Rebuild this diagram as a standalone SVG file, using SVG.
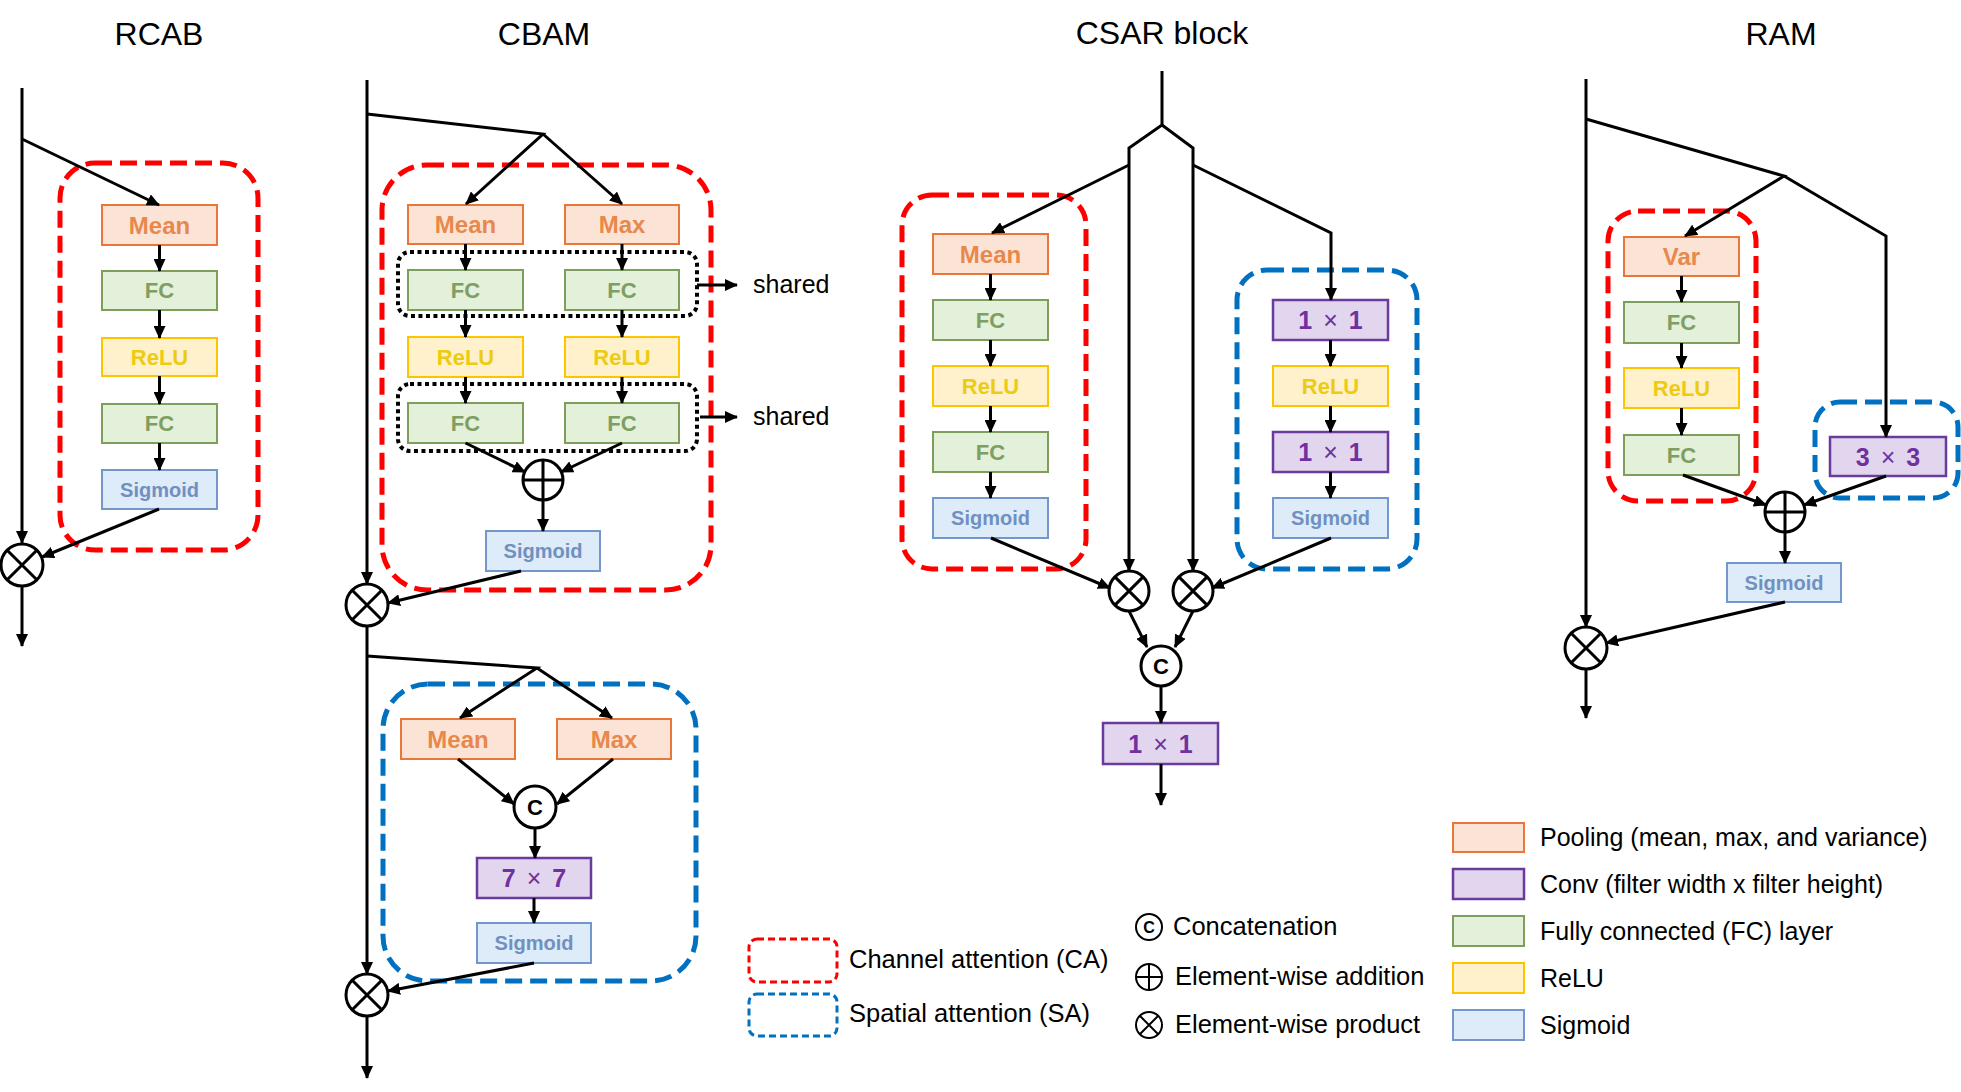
<svg xmlns="http://www.w3.org/2000/svg" width="1961" height="1092" viewBox="0 0 1961 1092">
<defs>
<marker id="ah" markerUnits="userSpaceOnUse" markerWidth="13" markerHeight="12" refX="12" refY="6" orient="auto">
<path d="M0,0 L13,6 L0,12 z" fill="#000"/>
</marker>
<style>
.ln{stroke:#000;stroke-width:3;fill:none;stroke-linejoin:miter}
.ar{marker-end:url(#ah)}
.title{font-family:"Liberation Sans",Arial,sans-serif;font-size:32px;fill:#000;text-anchor:middle}
.lt{font-family:"Liberation Sans",Arial,sans-serif;font-size:25.5px;fill:#000}
.lt2{font-family:"Liberation Sans",Arial,sans-serif;font-size:25px;fill:#000}
.bt{font-family:"Liberation Sans",Arial,sans-serif;font-weight:bold;font-size:22px;text-anchor:middle}
.pt{font-size:24px}
.st{font-size:20px}
.ct{font-size:25px;word-spacing:4px}
.b-pool{fill:#FBE4D6;stroke:#E9773A;stroke-width:2}
.b-fc{fill:#E3F0DA;stroke:#7E9F5A;stroke-width:2}
.b-relu{fill:#FFF1CC;stroke:#FFC400;stroke-width:2}
.b-sig{fill:#DEEBF8;stroke:#7397CB;stroke-width:2}
.b-conv{fill:#E2D6EE;stroke:#6A3A9C;stroke-width:2.5}
.t-pool{fill:#E8884C}
.t-fc{fill:#7F9E62}
.t-relu{fill:#EDCB12}
.t-sig{fill:#7090C0}
.t-conv{fill:#7030A0}
.ca{fill:none;stroke:#FF0000;stroke-width:5;stroke-dasharray:17 8}
.sa{fill:none;stroke:#0070C0;stroke-width:5;stroke-dasharray:17 8}
.sh{fill:none;stroke:#000;stroke-width:4;stroke-dasharray:4 3.5}
.op{fill:#fff;stroke:#000;stroke-width:3}
.opl{stroke:#000;stroke-width:3;fill:none}
.ctx{font-family:"Liberation Sans",Arial,sans-serif;font-weight:bold;font-size:22px;text-anchor:middle;fill:#000}
.lca{fill:none;stroke:#FF0000;stroke-width:3;stroke-dasharray:7 4}
.lsa{fill:none;stroke:#0070C0;stroke-width:3;stroke-dasharray:7 4}
</style>
</defs>
<rect width="1961" height="1092" fill="#fff"/>

<!-- titles -->
<text class="title" x="159" y="45">RCAB</text>
<text class="title" x="544" y="45">CBAM</text>
<text class="title" x="1162" y="44">CSAR block</text>
<text class="title" x="1781" y="45">RAM</text>

<!-- ================= RCAB ================= -->
<g id="rcab-ca"><rect class="ca" x="60" y="163" width="198" height="387" rx="35"/></g>
<g id="rcab-mean"><rect class="b-pool" x="102" y="205" width="115" height="40"/><text class="bt pt t-pool" x="159.5" y="233.5">Mean</text></g>
<g id="rcab-fc1"><rect class="b-fc" x="102" y="271" width="115" height="39"/><text class="bt t-fc" x="159.5" y="298">FC</text></g>
<g id="rcab-relu"><rect class="b-relu" x="102" y="338" width="115" height="38"/><text class="bt t-relu" x="159.5" y="365">ReLU</text></g>
<g id="rcab-fc2"><rect class="b-fc" x="102" y="404" width="115" height="39"/><text class="bt t-fc" x="159.5" y="431">FC</text></g>
<g id="rcab-sig"><rect class="b-sig" x="102" y="470" width="115" height="39"/><text class="bt st t-sig" x="159.5" y="496.5">Sigmoid</text></g>
<g id="rcab-mul"><circle class="op" cx="22" cy="565" r="21"/><path class="opl" d="M7.2,550.2 L36.8,579.8 M36.8,550.2 L7.2,579.8"/></g>

<!-- ================= CBAM ================= -->
<g id="cbam-ca"><rect class="ca" x="382" y="165" width="329" height="425" rx="45"/></g>
<g id="cbam-shared1"><rect class="sh" x="398" y="252" width="299" height="64" rx="12"/></g>
<g id="cbam-shared2"><rect class="sh" x="398" y="384" width="299" height="67" rx="12"/></g>
<g id="cbam-mean"><rect class="b-pool" x="408" y="205" width="115" height="39"/><text class="bt pt t-pool" x="465.5" y="233">Mean</text></g>
<g id="cbam-max"><rect class="b-pool" x="565" y="205" width="114" height="39"/><text class="bt pt t-pool" x="622" y="233">Max</text></g>
<g id="cbam-fc1a"><rect class="b-fc" x="408" y="270" width="115" height="40"/><text class="bt t-fc" x="465.5" y="298">FC</text></g>
<g id="cbam-fc1b"><rect class="b-fc" x="565" y="270" width="114" height="40"/><text class="bt t-fc" x="622" y="298">FC</text></g>
<g id="cbam-relua"><rect class="b-relu" x="408" y="337" width="115" height="40"/><text class="bt t-relu" x="465.5" y="365">ReLU</text></g>
<g id="cbam-relub"><rect class="b-relu" x="565" y="337" width="114" height="40"/><text class="bt t-relu" x="622" y="365">ReLU</text></g>
<g id="cbam-fc2a"><rect class="b-fc" x="408" y="403" width="115" height="40"/><text class="bt t-fc" x="465.5" y="431">FC</text></g>
<g id="cbam-fc2b"><rect class="b-fc" x="565" y="403" width="114" height="40"/><text class="bt t-fc" x="622" y="431">FC</text></g>
<g id="cbam-add"><circle class="op" cx="543" cy="480" r="20"/><path class="opl" d="M523,480 H563 M543,460 V500"/></g>
<g id="cbam-sig1"><rect class="b-sig" x="486" y="531" width="114" height="40"/><text class="bt st t-sig" x="543" y="558">Sigmoid</text></g>
<g id="cbam-mul1"><circle class="op" cx="367" cy="605" r="21"/><path class="opl" d="M352.2,590.2 L381.8,619.8 M381.8,590.2 L352.2,619.8"/></g>
<g id="cbam-shared-label1"><text class="lt2" x="753" y="293">shared</text></g>
<g id="cbam-shared-label2"><text class="lt2" x="753" y="425">shared</text></g>

<g id="cbam-sa"><rect class="sa" x="383" y="684" width="313" height="297" rx="45"/></g>
<g id="cbam-mean2"><rect class="b-pool" x="401" y="719" width="114" height="40"/><text class="bt pt t-pool" x="458" y="747.5">Mean</text></g>
<g id="cbam-max2"><rect class="b-pool" x="557" y="719" width="114" height="40"/><text class="bt pt t-pool" x="614" y="747.5">Max</text></g>
<g id="cbam-cat"><circle class="op" cx="535" cy="807" r="21"/><text class="ctx" x="535" y="815">C</text></g>
<g id="cbam-conv"><rect class="b-conv" x="477" y="858" width="114" height="40"/><text class="bt ct t-conv" x="534" y="887">7 <tspan font-weight="normal">×</tspan> 7</text></g>
<g id="cbam-sig2"><rect class="b-sig" x="477" y="923" width="114" height="40"/><text class="bt st t-sig" x="534" y="950">Sigmoid</text></g>
<g id="cbam-mul2"><circle class="op" cx="367" cy="995" r="21"/><path class="opl" d="M352.2,980.2 L381.8,1009.8 M381.8,980.2 L352.2,1009.8"/></g>

<!-- ================= CSAR ================= -->
<g id="csar-ca"><rect class="ca" x="902" y="195" width="184" height="374" rx="30"/></g>
<g id="csar-sa"><rect class="sa" x="1237" y="270" width="180" height="299" rx="30"/></g>
<g id="csar-mean"><rect class="b-pool" x="933" y="234" width="115" height="40"/><text class="bt pt t-pool" x="990.5" y="262.5">Mean</text></g>
<g id="csar-fc1"><rect class="b-fc" x="933" y="300" width="115" height="40"/><text class="bt t-fc" x="990.5" y="328">FC</text></g>
<g id="csar-relu1"><rect class="b-relu" x="933" y="366" width="115" height="40"/><text class="bt t-relu" x="990.5" y="394">ReLU</text></g>
<g id="csar-fc2"><rect class="b-fc" x="933" y="432" width="115" height="40"/><text class="bt t-fc" x="990.5" y="460">FC</text></g>
<g id="csar-sig1"><rect class="b-sig" x="933" y="498" width="115" height="40"/><text class="bt st t-sig" x="990.5" y="525">Sigmoid</text></g>
<g id="csar-conv1"><rect class="b-conv" x="1273" y="300" width="115" height="40"/><text class="bt ct t-conv" x="1330.5" y="329">1 <tspan font-weight="normal">×</tspan> 1</text></g>
<g id="csar-relu2"><rect class="b-relu" x="1273" y="366" width="115" height="40"/><text class="bt t-relu" x="1330.5" y="394">ReLU</text></g>
<g id="csar-conv2"><rect class="b-conv" x="1273" y="432" width="115" height="40"/><text class="bt ct t-conv" x="1330.5" y="461">1 <tspan font-weight="normal">×</tspan> 1</text></g>
<g id="csar-sig2"><rect class="b-sig" x="1273" y="498" width="115" height="40"/><text class="bt st t-sig" x="1330.5" y="525">Sigmoid</text></g>
<g id="csar-mul1"><circle class="op" cx="1129" cy="591" r="20"/><path class="opl" d="M1114.9,576.9 L1143.1,605.1 M1143.1,576.9 L1114.9,605.1"/></g>
<g id="csar-mul2"><circle class="op" cx="1193" cy="591" r="20"/><path class="opl" d="M1178.9,576.9 L1207.1,605.1 M1207.1,576.9 L1178.9,605.1"/></g>
<g id="csar-cat"><circle class="op" cx="1161" cy="666" r="20"/><text class="ctx" x="1161" y="674">C</text></g>
<g id="csar-conv3"><rect class="b-conv" x="1103" y="723" width="115" height="41"/><text class="bt ct t-conv" x="1160.5" y="752.5">1 <tspan font-weight="normal">×</tspan> 1</text></g>

<!-- ================= RAM ================= -->
<g id="ram-ca"><rect class="ca" x="1608" y="211" width="148" height="290" rx="30"/></g>
<g id="ram-sa"><rect class="sa" x="1815" y="402" width="143" height="96" rx="25"/></g>
<g id="ram-var"><rect class="b-pool" x="1624" y="237" width="115" height="39"/><text class="bt pt t-pool" x="1681.5" y="265">Var</text></g>
<g id="ram-fc1"><rect class="b-fc" x="1624" y="302" width="115" height="41"/><text class="bt t-fc" x="1681.5" y="330">FC</text></g>
<g id="ram-relu"><rect class="b-relu" x="1624" y="368" width="115" height="40"/><text class="bt t-relu" x="1681.5" y="396">ReLU</text></g>
<g id="ram-fc2"><rect class="b-fc" x="1624" y="435" width="115" height="40"/><text class="bt t-fc" x="1681.5" y="463">FC</text></g>
<g id="ram-conv"><rect class="b-conv" x="1830" y="437" width="116" height="39"/><text class="bt ct t-conv" x="1888" y="465.5">3 <tspan font-weight="normal">×</tspan> 3</text></g>
<g id="ram-add"><circle class="op" cx="1785" cy="512" r="20"/><path class="opl" d="M1765,512 H1805 M1785,492 V532"/></g>
<g id="ram-sig"><rect class="b-sig" x="1727" y="563" width="114" height="39"/><text class="bt st t-sig" x="1784" y="589.5">Sigmoid</text></g>
<g id="ram-mul"><circle class="op" cx="1586" cy="648" r="21"/><path class="opl" d="M1571.2,633.2 L1600.8,662.8 M1600.8,633.2 L1571.2,662.8"/></g>

<!-- ================= connectors ================= -->
<g id="connectors">
<!-- RCAB -->
<path class="ln ar" d="M22,88 V543"/>
<path class="ln ar" d="M22,139 L159,205"/>
<path class="ln ar" d="M159.5,245 V271"/>
<path class="ln ar" d="M159.5,310 V338"/>
<path class="ln ar" d="M159.5,376 V404"/>
<path class="ln ar" d="M159.5,443 V470"/>
<path class="ln ar" d="M159,509 L42,557"/>
<path class="ln ar" d="M22,586 V646"/>
<!-- CBAM channel -->
<path class="ln ar" d="M367,80 V584"/>
<path class="ln ar" d="M367,114 L543,134 L466,204"/>
<path class="ln ar" d="M543,134 L622,204"/>
<path class="ln ar" d="M465.5,244 V270"/>
<path class="ln ar" d="M622,244 V270"/>
<path class="ln ar" d="M465.5,310 V337"/>
<path class="ln ar" d="M622,310 V337"/>
<path class="ln ar" d="M465.5,377 V403"/>
<path class="ln ar" d="M622,377 V403"/>
<path class="ln ar" d="M465.5,443 L525,472"/>
<path class="ln ar" d="M622,443 L561,472"/>
<path class="ln ar" d="M543,500 V531"/>
<path class="ln ar" d="M521,571 L388,603"/>
<path class="ln ar" d="M697,285 H737"/>
<path class="ln ar" d="M700,417 H737"/>
<!-- CBAM spatial -->
<path class="ln ar" d="M367,626 V974"/>
<path class="ln ar" d="M367,656 L537,668 L460,718"/>
<path class="ln ar" d="M537,668 L612,718"/>
<path class="ln ar" d="M458,759 L514,804"/>
<path class="ln ar" d="M613,759 L557,804"/>
<path class="ln ar" d="M535,828 V858"/>
<path class="ln ar" d="M534,898 V923"/>
<path class="ln ar" d="M534,963 L388,991"/>
<path class="ln ar" d="M367,1016 V1078"/>
<!-- CSAR -->
<path class="ln ar" d="M1162,71 V125 L1129,148 V571"/>
<path class="ln ar" d="M1162,125 L1193,148 V571"/>
<path class="ln ar" d="M1129,165 L992,233"/>
<path class="ln ar" d="M1193,165 L1331,233 V300"/>
<path class="ln ar" d="M990.5,274 V300"/>
<path class="ln ar" d="M990.5,340 V366"/>
<path class="ln ar" d="M990.5,406 V432"/>
<path class="ln ar" d="M990.5,472 V498"/>
<path class="ln ar" d="M1330.5,340 V366"/>
<path class="ln ar" d="M1330.5,406 V432"/>
<path class="ln ar" d="M1330.5,472 V498"/>
<path class="ln ar" d="M991,538 L1110,588"/>
<path class="ln ar" d="M1331,538 L1212,588"/>
<path class="ln ar" d="M1129,611 L1147,647"/>
<path class="ln ar" d="M1193,611 L1175,647"/>
<path class="ln ar" d="M1161,686 V723"/>
<path class="ln ar" d="M1161,764 V805"/>
<!-- RAM -->
<path class="ln ar" d="M1586,79 V627"/>
<path class="ln ar" d="M1586,119 L1784,176 L1685,236"/>
<path class="ln ar" d="M1784,176 L1886,236 V437"/>
<path class="ln ar" d="M1681.5,276 V302"/>
<path class="ln ar" d="M1681.5,343 V368"/>
<path class="ln ar" d="M1681.5,408 V435"/>
<path class="ln ar" d="M1683,475 L1766,505"/>
<path class="ln ar" d="M1886,476 L1804,505"/>
<path class="ln ar" d="M1785,532 V563"/>
<path class="ln ar" d="M1785,602 L1606,643"/>
<path class="ln ar" d="M1586,669 V718"/>
</g>

<!-- ================= legends ================= -->
<g id="legend-ca"><rect class="lca" x="749" y="939" width="88" height="43" rx="8"/><text class="lt" x="849" y="968">Channel attention (CA)</text></g>
<g id="legend-sa"><rect class="lsa" x="749" y="994" width="88" height="42" rx="8"/><text class="lt" x="849" y="1022">Spatial attention (SA)</text></g>
<g id="legend-cat"><circle cx="1149" cy="927" r="13" fill="#fff" stroke="#000" stroke-width="2"/><text x="1149" y="933" font-family="Liberation Sans, Arial, sans-serif" font-weight="bold" font-size="16" text-anchor="middle">C</text><text class="lt" x="1173" y="935">Concatenation</text></g>
<g id="legend-add"><circle cx="1149" cy="977" r="13" fill="#fff" stroke="#000" stroke-width="2"/><path d="M1136,977 H1162 M1149,964 V990" stroke="#000" stroke-width="2"/><text class="lt" x="1175" y="985">Element-wise addition</text></g>
<g id="legend-mul"><circle cx="1149" cy="1025" r="13" fill="#fff" stroke="#000" stroke-width="2"/><path d="M1139.8,1015.8 L1158.2,1034.2 M1158.2,1015.8 L1139.8,1034.2" stroke="#000" stroke-width="2"/><text class="lt" x="1175" y="1033">Element-wise product</text></g>

<g id="legend-pool"><rect class="b-pool" x="1453" y="823" width="71" height="29"/><text class="lt2" x="1540" y="846">Pooling (mean, max, and variance)</text></g>
<g id="legend-conv"><rect class="b-conv" x="1453" y="869" width="71" height="30"/><text class="lt2" x="1540" y="893">Conv (filter width x filter height)</text></g>
<g id="legend-fc"><rect class="b-fc" x="1453" y="916" width="71" height="30"/><text class="lt2" x="1540" y="940">Fully connected (FC) layer</text></g>
<g id="legend-relu"><rect class="b-relu" x="1453" y="963" width="71" height="30"/><text class="lt2" x="1540" y="987">ReLU</text></g>
<g id="legend-sig"><rect class="b-sig" x="1453" y="1010" width="71" height="30"/><text class="lt2" x="1540" y="1034">Sigmoid</text></g>
</svg>
